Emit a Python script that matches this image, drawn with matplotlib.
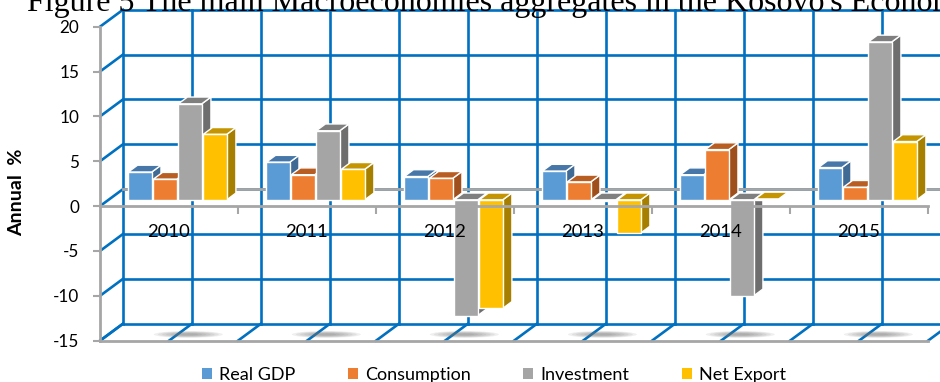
import numpy as np
import matplotlib.pyplot as plt
from matplotlib.patches import Polygon, Ellipse, Patch

years = ['2010', '2011', '2012', '2013', '2014', '2015']
series = ['Real GDP', 'Consumption', 'Investment', 'Net Export']
real_gdp = [3.1, 4.2, 2.6, 3.2, 2.8, 3.6]
consumption = [2.3, 2.8, 2.4, 2.0, 5.6, 1.4]
investment = [10.7, 7.7, -12.9, -0.1, -10.7, 17.6]
net_export = [7.3, 3.4, -12.1, -3.7, 0.1, 6.5]
values = [real_gdp, consumption, investment, net_export]

front_colors = ['#5B9BD5', '#ED7D31', '#A5A5A5', '#FFC000']
top_colors = ['#4677A8', '#B95E22', '#7F7F7F', '#C49500']
side_colors = ['#3E6A94', '#9E4F1B', '#6E6E6E', '#A67F00']
grid_blue = '#0070C0'
axis_gray = '#A6A6A6'

plt.rcParams['font.family'] = ['Lato', 'DejaVu Sans']

fig = plt.figure(figsize=(9.4, 3.82), dpi=100)
ax = fig.add_axes([100 / 940, 41.3 / 382, 828 / 940, 314 / 382])
ax.set_xlim(-0.5, 5.5)
ax.set_ylim(-15, 20)

# depth of the box: 23 px right, 17 px up, in data units
DX = 23 / 138
DY = 17 / (314 / 35)

yt = np.arange(-15, 25, 5)
xg = np.arange(-0.5, 5.51, 0.5)

# back wall, left wall and floor grid
for v in yt:
    ax.plot([-0.5 + DX, 5.5 + DX], [v + DY, v + DY], color=grid_blue, lw=1.9,
            zorder=1, clip_on=False, solid_capstyle='butt')
    ax.plot([-0.5, -0.5 + DX], [v, v + DY], color=grid_blue, lw=1.9,
            zorder=1, clip_on=False)
for x in xg:
    ax.plot([x + DX, x + DX], [-15 + DY, 20 + DY], color=grid_blue, lw=1.9,
            zorder=1, clip_on=False)
    ax.plot([x, x + DX], [-15, -15 + DY], color=grid_blue, lw=1.9,
            zorder=1, clip_on=False)

# zero line on the back wall and the front floor edge
ax.plot([-0.5 + DX, 5.5 + DX], [DY, DY], color=axis_gray, lw=2, zorder=1.5,
        clip_on=False)
ax.plot([-0.5, 5.5], [-15, -15], color=axis_gray, lw=2, zorder=1.6,
        clip_on=False)

# soft shadows on the floor
for i in range(len(years)):
    for k in range(7):
        ax.add_patch(Ellipse((i + 0.14, -15 + 0.7), 0.5 * (1 - k * 0.12),
                             0.75 * (1 - k * 0.12), color='#6F6F6F',
                             alpha=0.11, lw=0, zorder=2))

# bars
width = 0.17
step = 0.181
f0, f1 = 0.37, 0.77
ddx = (f1 - f0) * DX
ddy = (f1 - f0) * DY
z = 3.0
for i in range(len(years)):
    for s, vals in enumerate(values):
        v = vals[i]
        xc = i + (s - 1.5) * step + f0 * DX
        yb = f0 * DY
        x0 = xc - width / 2
        x1 = xc + width / 2
        top = max(v, 0) + yb
        bot = min(v, 0) + yb
        side = [(x1, bot), (x1, top), (x1 + ddx, top + ddy), (x1 + ddx, bot + ddy)]
        lid = [(x0, top), (x1, top), (x1 + ddx, top + ddy), (x0 + ddx, top + ddy)]
        ax.add_patch(Polygon(side, closed=True, facecolor=side_colors[s],
                             edgecolor='white', lw=1, zorder=z))
        ax.add_patch(Polygon(lid, closed=True, facecolor=top_colors[s],
                             edgecolor='white', lw=1, zorder=z))
        ax.bar(xc, v, width, bottom=yb, color=front_colors[s],
               edgecolor='white', lw=1, zorder=z + 0.001)
        z += 0.01

# axes: front y axis and zero line with category ticks
for side_name in ['top', 'right']:
    ax.spines[side_name].set_visible(False)
ax.patch.set_visible(False)
ax.spines['left'].set_color(axis_gray)
ax.spines['left'].set_linewidth(2)
ax.spines['bottom'].set_position(('data', 0))
ax.spines['bottom'].set_color(axis_gray)
ax.spines['bottom'].set_linewidth(2)
ax.spines['bottom'].set_zorder(6)
ax.xaxis.set_zorder(6)
ax.set_yticks(yt)
ax.set_yticklabels([str(v) for v in yt])
ax.tick_params(axis='y', length=5, width=1.5, color=axis_gray, pad=10,
               labelsize=12.3)
ax.set_xticks(np.arange(0.5, 5.6, 1))
ax.set_xticklabels([])
ax.tick_params(axis='x', length=6, width=1.5, color=axis_gray, direction='out')

for i, yr in enumerate(years):
    ax.text(i, -2.9, yr, ha='center', va='center', fontsize=13.3, zorder=7)

fig.text(17 / 940, (382 - 192) / 382, 'Annual  %', rotation=90, weight='bold',
         fontsize=14, ha='center', va='center')

fig.text(27 / 940, 1 - 11 / 382,
         "Figure 5 The main Macroeconomies aggregates in the Kosovo's Economy",
         family='Liberation Serif', fontsize=23, ha='left', va='baseline')

handles = [Patch(facecolor=c) for c in front_colors]
fig.legend(handles, series, loc='center', bbox_to_anchor=(494 / 940, 7 / 382),
           ncol=4, frameon=False, fontsize=13, handlelength=0.55,
           handleheight=0.55, handletextpad=0.4, columnspacing=2.9, borderpad=0)

fig.savefig('out.png', dpi=100)
